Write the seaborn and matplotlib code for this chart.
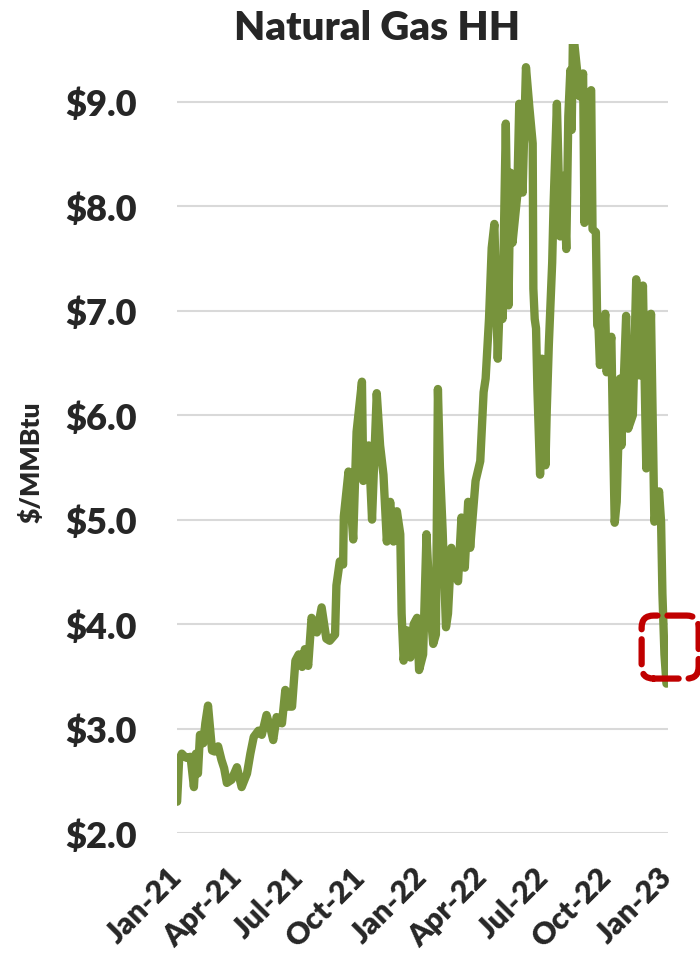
import pandas as pd
import matplotlib
matplotlib.use("Agg")
import matplotlib.pyplot as plt
import matplotlib.dates as mdates
from matplotlib.patches import FancyBboxPatch
from matplotlib.transforms import IdentityTransform
import seaborn as sns

# Henry Hub front-month price
dates = [
    "2021-01-01", "2021-01-04", "2021-01-08", "2021-01-11", "2021-01-15", "2021-01-21",
    "2021-01-26", "2021-01-29", "2021-02-01", "2021-02-04", "2021-02-09", "2021-02-12",
    "2021-02-16", "2021-02-19", "2021-02-22", "2021-02-26", "2021-03-03", "2021-03-08",
    "2021-03-12", "2021-03-16", "2021-03-23", "2021-03-31", "2021-04-07", "2021-04-12",
    "2021-04-15", "2021-04-20", "2021-04-25", "2021-05-02", "2021-05-07", "2021-05-14",
    "2021-05-20", "2021-05-24", "2021-05-29", "2021-06-06", "2021-06-11", "2021-06-16",
    "2021-06-21", "2021-06-26", "2021-07-01", "2021-07-06", "2021-07-10", "2021-07-15",
    "2021-07-20", "2021-07-28", "2021-08-04", "2021-08-11", "2021-08-16", "2021-08-24",
    "2021-08-26", "2021-08-31", "2021-09-05", "2021-09-06", "2021-09-13", "2021-09-20",
    "2021-09-25", "2021-10-03", "2021-10-05", "2021-10-13", "2021-10-18", "2021-10-25",
    "2021-10-30", "2021-11-04", "2021-11-09", "2021-11-14", "2021-11-19", "2021-11-24",
    "2021-11-29", "2021-12-01", "2021-12-04", "2021-12-09", "2021-12-14", "2021-12-19",
    "2021-12-24", "2021-12-27", "2022-01-02", "2022-01-07", "2022-01-12", "2022-01-17",
    "2022-01-21", "2022-01-24", "2022-01-27", "2022-01-31", "2022-02-05", "2022-02-08",
    "2022-02-13", "2022-02-18", "2022-02-23", "2022-02-28", "2022-03-05", "2022-03-10",
    "2022-03-13", "2022-03-21", "2022-03-28", "2022-04-02", "2022-04-05", "2022-04-10",
    "2022-04-14", "2022-04-18", "2022-04-23", "2022-04-28", "2022-04-30", "2022-05-05",
    "2022-05-09", "2022-05-12", "2022-05-15", "2022-05-22", "2022-05-25", "2022-05-30",
    "2022-06-04", "2022-06-09", "2022-06-14", "2022-06-15", "2022-06-17", "2022-06-19",
    "2022-06-21", "2022-06-25", "2022-06-28", "2022-07-01", "2022-07-03", "2022-07-05",
    "2022-07-08", "2022-07-13", "2022-07-15", "2022-07-20", "2022-07-25", "2022-07-30",
    "2022-08-03", "2022-08-06", "2022-08-09", "2022-08-11", "2022-08-13", "2022-08-18",
    "2022-08-23", "2022-08-28", "2022-08-30", "2022-09-04", "2022-09-09", "2022-09-11",
    "2022-09-16", "2022-09-18", "2022-09-20", "2022-09-22", "2022-09-25", "2022-09-30",
    "2022-10-02", "2022-10-09", "2022-10-11", "2022-10-14", "2022-10-17", "2022-10-22",
    "2022-10-24", "2022-10-31", "2022-11-03", "2022-11-10", "2022-11-15", "2022-11-20",
    "2022-11-25", "2022-11-30", "2022-12-02", "2022-12-07", "2022-12-12", "2022-12-19",
    "2022-12-22", "2022-12-24", "2022-12-27", "2022-12-30",
]
prices = [
    2.30, 2.70, 2.76, 2.74, 2.72, 2.73,
    2.44, 2.76, 2.57, 2.94, 2.86, 3.05,
    3.22, 3.00, 2.79, 2.78, 2.83, 2.70,
    2.62, 2.48, 2.51, 2.63, 2.44, 2.52,
    2.57, 2.76, 2.92, 2.98, 2.94, 3.13,
    3.00, 2.89, 3.11, 3.05, 3.37, 3.21,
    3.21, 3.65, 3.71, 3.59, 3.76, 3.60,
    4.06, 3.92, 4.16, 3.86, 3.84, 3.90,
    4.37, 4.60, 4.57, 5.03, 5.46, 4.81,
    5.84, 6.32, 5.37, 5.71, 5.00, 6.21,
    5.71, 5.43, 4.79, 5.17, 4.79, 5.08,
    4.86, 4.10, 3.65, 3.94, 3.68, 4.00,
    4.06, 3.56, 3.71, 4.86, 4.19, 3.81,
    3.90, 6.25, 5.50, 4.90, 3.97, 4.10,
    4.73, 4.48, 4.41, 5.02, 4.54, 5.17,
    4.73, 5.37, 5.56, 6.22, 6.35, 6.92,
    7.60, 7.83, 6.54, 7.46, 6.92, 8.79,
    7.05, 8.32, 7.65, 8.10, 8.98, 8.13,
    9.33, 8.95, 8.60, 7.21, 6.92, 6.83,
    6.25, 5.43, 6.54, 6.19, 5.52, 6.06,
    6.67, 7.46, 8.00, 8.98, 7.71, 8.29,
    7.59, 8.86, 9.30, 8.73, 9.68, 9.37,
    9.05, 9.27, 7.84, 9.05, 9.11, 7.78,
    7.75, 6.86, 6.83, 6.48, 6.63, 6.97,
    6.41, 6.75, 6.00, 4.97, 5.17, 6.35,
    5.71, 6.95, 5.87, 6.00, 7.30, 6.38,
    7.24, 5.49, 5.81, 6.97, 4.98, 5.27,
    4.98, 4.29, 3.71, 3.43,
]

y_ticks = [2.0, 3.0, 4.0, 5.0, 6.0, 7.0, 8.0, 9.0]
y_tick_labels = ["$2.0", "$3.0", "$4.0", "$5.0", "$6.0", "$7.0", "$8.0", "$9.0"]
x_ticks = ["2021-01-01", "2021-04-01", "2021-07-01", "2021-10-01", "2022-01-01",
           "2022-04-01", "2022-07-01", "2022-10-01", "2023-01-01"]
x_tick_labels = ["Jan-21", "Apr-21", "Jul-21", "Oct-21", "Jan-22",
                 "Apr-22", "Jul-22", "Oct-22", "Jan-23"]
title = "Natural Gas HH"
y_label = "$/MMBtu"

# latest price flagged with a red dashed box
highlight_date = "2022-12-31"
highlight_price = 3.78

df = pd.DataFrame({"date": pd.to_datetime(dates), "price": prices})

sns.set_style("white")
plt.rcParams["font.family"] = ["Lato", "DejaVu Sans"]

fig = plt.figure(figsize=(7, 9.62), dpi=100)
ax = fig.add_axes([0.253, 0.133, 0.701, 0.82])

sns.lineplot(data=df, x="date", y="price", ax=ax, color="#77933C",
             linewidth=6, solid_capstyle="round", solid_joinstyle="round")

ax.set_xlim(pd.Timestamp("2021-01-01"), pd.Timestamp("2023-01-01"))
ax.set_ylim(2.0, 9.55)
ax.set_yticks(y_ticks)
ax.set_yticklabels(y_tick_labels, fontsize=26, fontweight="heavy")
ax.set_xticks(pd.to_datetime(x_ticks))
ax.set_xticklabels(x_tick_labels, rotation=45, ha="right", va="center",
                   rotation_mode="anchor", fontsize=22, fontweight="heavy")
ax.tick_params(axis="y", length=0, pad=29)
ax.tick_params(axis="x", length=0, pad=28)
ax.set_xlabel("")
ax.set_ylabel("")
ax.yaxis.grid(True, color="#D9D9D9", linewidth=1.5)
ax.set_axisbelow(True)
sns.despine(ax=ax, left=True, bottom=True)

fig.text(0.539, 0.97, title, ha="center", va="center", fontsize=29, fontweight="heavy")
fig.text(0.045, 0.52, y_label, ha="center", va="center", rotation=90,
         fontsize=19, fontweight="heavy")

# dashed rounded box around the last value, sized in pixels
cx, cy = ax.transData.transform((mdates.date2num(pd.Timestamp(highlight_date)), highlight_price))
bw, bh = 57, 63
box = FancyBboxPatch((cx - bw / 2 + 3, cy - bh / 2), bw, bh,
                     boxstyle="round,pad=0,rounding_size=12",
                     transform=IdentityTransform(), facecolor="none",
                     edgecolor="#C00000", linewidth=4.5, linestyle=(0, (4, 1.6)),
                     capstyle="round")
fig.add_artist(box)

fig.savefig("out.png", dpi=100)
plt.close(fig)
